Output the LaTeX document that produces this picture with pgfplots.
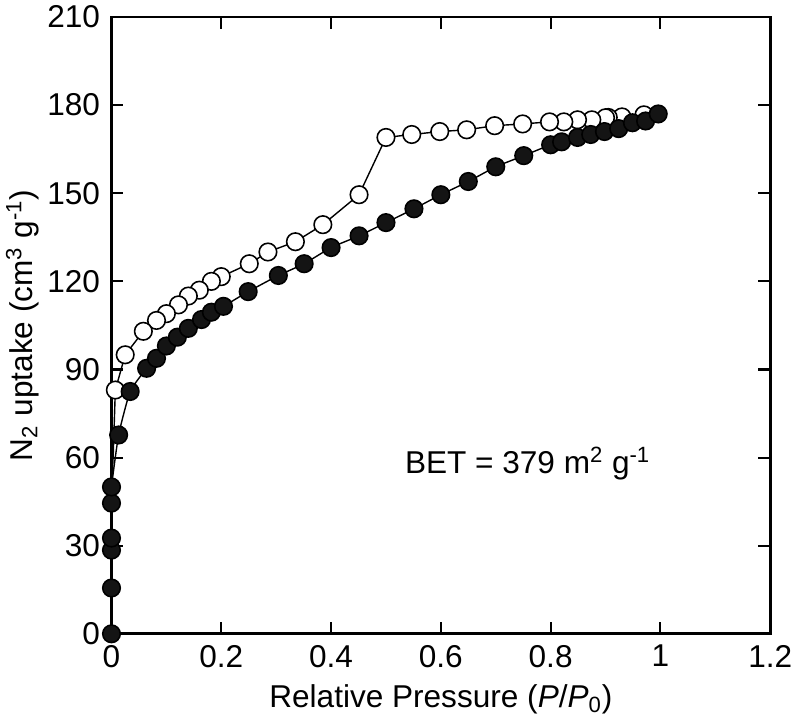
\documentclass[border=0pt]{standalone}
\usepackage{fontspec}
\setmainfont{Liberation Sans}
\usepackage{pgfplots}
\pgfplotsset{compat=1.18}

\begin{document}
\begin{tikzpicture}
\begin{axis}[
  width=13.2cm, height=12.36cm, scale only axis,
  xmin=0, xmax=1.2, ymin=0, ymax=210,
  xtick={0,0.2,...,1.2}, ytick={0,30,...,210},
  tick align=inside, major tick length=2.4mm,
  axis line style={line width=1.6pt},
  every tick/.style={line width=1.2pt, black},
  tick label style={font=\fontsize{18}{21}\selectfont},
  label style={font=\fontsize{18}{21}\selectfont},
  xticklabel style={yshift=-3pt},
  yticklabel style={xshift=-3pt},
  /pgf/number format/assume math mode=true,
  /pgf/number format/fixed,
  xlabel={Relative Pressure (\textit{P}/\textit{P}\textsubscript{0})},
  ylabel={N\textsubscript{2} uptake (cm\textsuperscript{3} g\textsuperscript{-1})},
  xlabel style={yshift=-3pt},
  ylabel style={yshift=-2pt},
  clip=false,
]
% desorption (open)
\addplot[black, line width=0.8pt, mark=*, mark size=5pt,
  mark options={fill=white, line width=0.9pt}] coordinates {
(0.97,176.7) (0.93,176.0) (0.905,175.8) (0.9,175.7) (0.875,175.0) (0.849,175.0)
(0.824,174.3) (0.798,174.3) (0.749,173.6) (0.698,173.0) (0.647,171.6)
(0.598,171.0) (0.547,170.0) (0.5,169.0) (0.451,149.5) (0.385,139.3)
(0.335,133.5) (0.285,130.0) (0.251,126.0) (0.2,121.6) (0.182,120.0)
(0.16,117.0) (0.14,115.0) (0.122,112.0) (0.1,109.0) (0.082,106.7)
(0.058,103.0) (0.025,95.0) (0.007,83.0)
};
\addplot[black, line width=0.8pt, no marks] coordinates {(0.007,83.0) (0.003,60.0) (0.0,50.0)};
% adsorption (filled)
\addplot[black, line width=0.8pt, mark=*, mark size=5pt,
  mark options={fill=black!92, line width=0.9pt}, smooth, tension=0.3] coordinates {
(0,0) (0,15.6) (0,28.5) (0,32.6) (0,44.5) (0,50.0)
(0.013,67.7) (0.034,82.5) (0.064,90.4) (0.082,93.8) (0.1,98.0)
(0.12,101.0) (0.14,104.0) (0.164,107.0) (0.182,109.5) (0.204,111.5)
(0.249,116.5) (0.304,122.0) (0.351,126.0) (0.4,131.5) (0.451,135.5)
(0.5,140.0) (0.551,144.7) (0.6,149.5) (0.65,154.0) (0.7,159.0)
(0.751,162.8) (0.8,166.5) (0.82,167.5) (0.849,169.0) (0.873,170.0)
(0.898,171.0) (0.924,172.0) (0.949,174.0) (0.973,174.6) (0.996,177.0)
};
\node[font=\fontsize{18}{21}\selectfont] at (axis cs:0.758,57.8)
  {BET = 379 m\textsuperscript{2} g\textsuperscript{-1}};
\end{axis}
\end{tikzpicture}
\end{document}
